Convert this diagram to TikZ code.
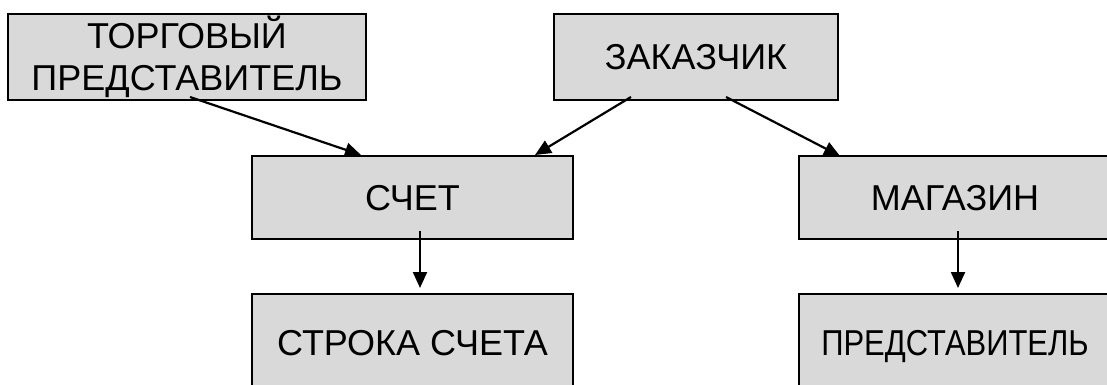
\documentclass[tikz,border=0pt]{standalone}
\usepackage{fontspec}
\setmainfont{Liberation Sans}
\usetikzlibrary{arrows.meta,calc}
\begin{document}
\begin{tikzpicture}[x=1pt,y=-1pt,
  box/.style={draw=black,line width=2.6pt,fill=black!15,inner sep=0pt,outer sep=0pt,
    align=center,font=\fontsize{36}{42}\selectfont,text height=26pt,text depth=0pt},
  conn/.style={line width=2.2pt,-{Triangle[length=16pt,width=14pt]}}]
\useasboundingbox (0,0) rectangle (1107,385);
\clip (0,0) rectangle (1107,385);
\node[box,minimum width=358pt,minimum height=86pt,text height=68pt] (trep) at (187,57) {ТОРГОВЫЙ\\ПРЕДСТАВИТЕЛЬ};
\node[box,minimum width=284pt,minimum height=86pt] (zak) at (696,57) {ЗАКАЗЧИК};
\node[box,minimum width=321pt,minimum height=83pt] (schet) at (412.5,197.5) {СЧЕТ};
\node[box,minimum width=312pt,minimum height=83pt] (mag) at (955,197.5) {МАГАЗИН};
\node[box,minimum width=321pt,minimum height=96pt] (stroka) at (412.5,342) {СТРОКА СЧЕТА};
\node[box,minimum width=312pt,minimum height=96pt] (rep) at (955,342) {\scalebox{0.86}[1]{ПРЕДСТАВИТЕЛЬ}};
\draw[conn] ($(trep.south)+(3,-3)$) -- ($(schet.north)+(-51.5,-1)$);
\draw[conn] ($(zak.south)+(-65,-3)$) -- ($(schet.north)+(122.5,-1)$);
\draw[conn] ($(zak.south)+(30,-3)$) -- ($(mag.north)+(-115,0)$);
\draw[conn] ($(schet.south)+(7.5,-8)$) -- ($(stroka.north)+(7.5,-6)$);
\draw[conn] ($(mag.south)+(3,-8)$) -- ($(rep.north)+(3,-6)$);
\end{tikzpicture}
\end{document}
